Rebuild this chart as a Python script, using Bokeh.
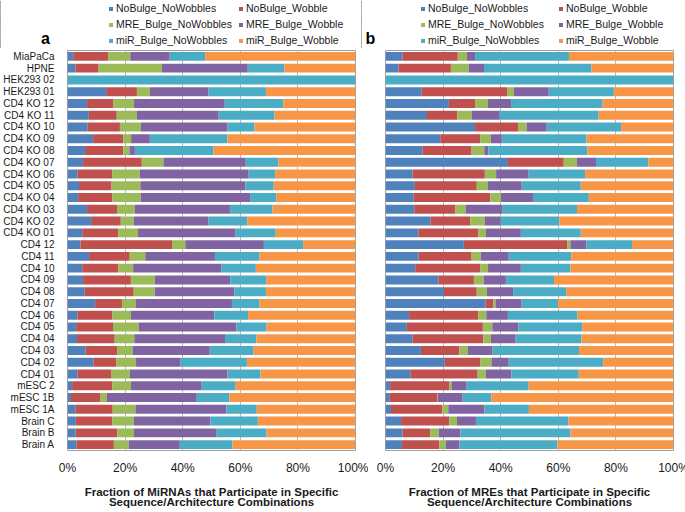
from bokeh.plotting import figure
from bokeh.layouts import row, column
from bokeh.models import Legend, LegendItem, Label, NumeralTickFormatter, FixedTicker, ColumnDataSource, FactorRange
from bokeh.embed import file_html
from bokeh.resources import INLINE

categories = ["MiaPaCa", "HPNE", "HEK293 02", "HEK293 01", "CD4 KO 12", "CD4 KO 11", "CD4 KO 10",
              "CD4 KO 09", "CD4 KO 08", "CD4 KO 07", "CD4 KO 06", "CD4 KO 05", "CD4 KO 04",
              "CD4 KO 03", "CD4 KO 02", "CD4 KO 01", "CD4 12", "CD4 11", "CD4 10", "CD4 09",
              "CD4 08", "CD4 07", "CD4 06", "CD4 05", "CD4 04", "CD4 03", "CD4 02", "CD4 01",
              "mESC 2", "mESC 1B", "mESC 1A", "Brain C", "Brain B", "Brain A"]

series_names = ["NoBulge_NoWobbles", "NoBulge_Wobble", "MRE_Bulge_NoWobbles",
                "MRE_Bulge_Wobble", "miR_Bulge_NoWobbles", "miR_Bulge_Wobble"]
colors = ["#4F81BD", "#C0504D", "#9BBB59", "#8064A2", "#4BACC6", "#F79646"]

# Panel a: fraction of miRNAs (percent)
a_nobulge_nowobbles = [2.0, 2.8, 0, 13.4, 6.8, 7.4, 7.0, 8.9, 6.1, 5.4, 3.5, 4.0, 3.7, 6.8, 8.2, 5.1, 4.5,
                       7.5, 5.1, 5.4, 6.0, 9.6, 3.5, 3.0, 3.3, 6.3, 9.1, 3.5, 1.6, 1.2, 2.7, 2.9, 2.8, 3.1]
a_nobulge_wobble = [12.1, 8.0, 0, 10.7, 9.2, 9.7, 11.2, 10.5, 13.3, 20.4, 12.0, 11.3, 11.9, 10.4, 10.3, 12.5,
                    31.8, 14.1, 12.5, 16.6, 17.0, 9.3, 12.1, 12.8, 13.1, 10.9, 7.9, 11.6, 14.0, 10.1, 13.0,
                    12.7, 14.5, 13.0]
a_mre_bulge_nowobbles = [7.7, 22.0, 0, 4.5, 7.1, 7.0, 7.3, 2.7, 2.1, 7.5, 9.6, 10.0, 9.8, 6.2, 4.5, 6.9,
                         4.6, 5.4, 5.2, 8.3, 7.3, 4.9, 6.4, 8.9, 6.8, 5.4, 6.8, 6.6, 6.4, 2.3, 7.9, 7.4, 5.8, 5.2]
a_mre_bulge_wobble = [13.7, 29.8, 0, 20.4, 31.5, 28.4, 30.1, 6.5, 1.9, 28.6, 37.8, 36.5, 38.0, 33.0, 26.0,
                      33.9, 27.3, 24.2, 30.7, 26.2, 27.7, 33.3, 29.0, 33.9, 31.5, 26.8, 15.5, 33.9, 24.6,
                      31.3, 31.6, 26.6, 28.7, 17.7]
a_mir_bulge_nowobbles = [12.3, 12.7, 100, 19.9, 20.3, 19.4, 9.3, 26.9, 27.3, 11.3, 9.2, 9.8, 9.1, 14.8, 13.4,
                         13.9, 13.6, 15.5, 11.9, 12.5, 10.9, 9.6, 11.7, 10.4, 10.9, 15.2, 23.0, 11.4, 11.8,
                         11.3, 10.5, 16.5, 17.3, 18.3]
a_mir_bulge_wobble = [52.2, 24.7, 0, 31.1, 25.1, 28.1, 35.1, 44.5, 49.3, 26.8, 27.9, 28.4, 27.5, 28.8, 37.6,
                      27.7, 18.2, 33.3, 34.6, 31.0, 31.1, 33.3, 37.3, 31.0, 34.4, 35.4, 37.7, 33.0, 41.6,
                      43.8, 34.3, 33.9, 30.9, 42.7]

# Panel b: fraction of MREs (percent)
b_nobulge_nowobbles = [5.9, 4.5, 0, 12.6, 22.0, 14.4, 31.1, 19.0, 12.9, 42.5, 9.4, 10.2, 9.8, 10.0, 15.6,
                       11.4, 27.2, 11.5, 10.3, 18.4, 20.3, 34.8, 8.2, 7.4, 9.4, 12.3, 20.6, 8.6, 1.6, 1.3,
                       1.9, 5.4, 5.9, 5.7]
b_nobulge_wobble = [19.2, 18.2, 0, 29.6, 9.1, 10.5, 14.9, 13.9, 17.0, 19.4, 25.1, 21.5, 26.6, 14.3, 13.8,
                    20.9, 36.0, 18.4, 22.7, 12.3, 11.4, 2.6, 24.0, 26.4, 24.6, 13.4, 12.4, 23.4, 20.5, 16.7,
                    17.8, 16.7, 9.6, 13.0]
b_mre_bulge_nowobbles = [3.2, 6.2, 0, 2.4, 4.5, 5.1, 3.0, 3.7, 4.4, 4.6, 3.9, 3.9, 3.7, 3.5, 5.0, 2.6, 1.0,
                         3.2, 2.6, 3.4, 3.5, 0.8, 2.8, 3.3, 2.6, 2.9, 3.8, 2.9, 0.8, 0.2, 2.1, 2.7, 3.0, 2.3]
b_mre_bulge_wobble = [2.8, 5.3, 0, 12.1, 8.0, 9.7, 7.0, 3.8, 1.4, 6.6, 11.3, 11.7, 11.1, 12.9, 5.6, 12.1,
                      5.6, 9.7, 11.4, 7.7, 9.1, 9.1, 7.5, 9.0, 8.6, 8.6, 6.0, 8.8, 5.3, 8.6, 12.5, 6.6, 7.5, 4.7]
b_mir_bulge_nowobbles = [32.6, 37.3, 100, 22.6, 31.8, 34.3, 25.8, 29.4, 34.4, 18.2, 19.6, 20.5, 19.4, 25.8,
                         20.3, 20.8, 15.8, 21.7, 17.2, 16.7, 18.4, 12.6, 24.2, 22.2, 22.8, 30.0, 32.8, 23.4,
                         21.5, 10.0, 15.5, 32.1, 38.2, 34.0]
b_mir_bulge_wobble = [36.3, 28.5, 0, 20.7, 24.6, 26.0, 18.2, 30.2, 29.9, 8.7, 30.7, 32.2, 29.4, 33.5, 39.7,
                      32.2, 14.4, 35.5, 35.8, 41.5, 37.3, 40.1, 33.3, 31.7, 32.0, 32.8, 24.4, 32.9, 50.3,
                      63.2, 50.2, 36.5, 35.8, 40.3]

x_ticks = [0, 20, 40, 60, 80, 100]

FONT = "Liberation Sans"
FRAME_H = 400
FRAME_W = 288
LEG_FIG_H = 48
KEYS = ["s%d" % i for i in range(6)]


def make_source(series):
    data = {"cat": categories}
    for k, s in zip(KEYS, series):
        data[k] = [v / 100.0 for v in s]
    return ColumnDataSource(data)


def make_legend_fig(src, width, legend_x, letter, letter_x, label_width):
    # the stacked bars are drawn here only to feed the legend; the view range keeps them out of sight
    lf = figure(width=width, height=LEG_FIG_H, x_range=(2, 3), y_range=FactorRange(*categories),
                x_axis_location=None, y_axis_location=None, min_border=0,
                output_backend="svg", toolbar_location=None, title_location=None)
    lf.grid.visible = False
    lf.outline_line_color = None
    rs = lf.hbar_stack(KEYS, y="cat", height=0.76, color=colors, source=src, line_color=None)
    items = [LegendItem(label=n, renderers=[r]) for n, r in zip(series_names, rs)]
    legend = Legend(items=items, orientation="horizontal", ncols=2,
                    location=(legend_x, 1), margin=0, padding=0, spacing=2,
                    glyph_width=5, glyph_height=5, label_height=14, label_width=label_width,
                    label_standoff=3, label_text_font=FONT, label_text_font_size="10.5px",
                    label_text_color="#1a1a1a", background_fill_alpha=0, border_line_color=None)
    lf.add_layout(legend, "center")
    lab = Label(x=letter_x, y=10, x_units="screen", y_units="screen", text=letter,
                text_font=FONT, text_font_size="16px", text_font_style="bold",
                text_align="center", text_baseline="middle", text_color="#000000")
    lf.add_layout(lab)
    return lf


def make_panel(src, xlabel, border_left, border_right, show_ylabels):
    p = figure(y_range=FactorRange(*reversed(categories)), x_range=(0, 1),
               frame_width=FRAME_W, frame_height=FRAME_H, output_backend="svg", toolbar_location=None,
               min_border_left=border_left, min_border_right=border_right,
               min_border_top=2, min_border_bottom=0, title_location=None)
    p.hbar_stack(KEYS, y="cat", height=0.76, color=colors, source=src, line_color=None)

    p.xaxis.ticker = FixedTicker(ticks=[t / 100.0 for t in x_ticks])
    p.xaxis.formatter = NumeralTickFormatter(format="0%")
    p.xaxis.major_label_text_font = FONT
    p.xaxis.major_label_text_font_size = "12px"
    p.xaxis.major_label_text_color = "#1a1a1a"
    p.xaxis.major_tick_line_color = None
    p.xaxis.minor_tick_line_color = None
    p.xaxis.axis_line_color = None
    p.xaxis.major_label_standoff = 4
    p.xaxis.axis_label = xlabel
    p.xaxis.axis_label_text_font = FONT
    p.xaxis.axis_label_text_font_size = "11.5px"
    p.xaxis.axis_label_text_font_style = "bold"
    p.xaxis.axis_label_text_color = "#1a1a1a"
    p.xaxis.axis_label_text_line_height = 0.85
    p.xaxis.axis_label_standoff = 8

    if show_ylabels:
        p.yaxis.major_label_text_font = FONT
        p.yaxis.major_label_text_font_size = "10px"
        p.yaxis.major_label_text_color = "#1a1a1a"
        p.yaxis.major_tick_line_color = None
        p.yaxis.axis_line_color = None
        p.yaxis.major_label_standoff = 7
    else:
        p.yaxis.visible = False

    p.ygrid.grid_line_color = None
    p.xgrid.grid_line_color = "#b8b8b8"
    p.xgrid.grid_line_width = 1
    p.outline_line_color = "#a0a0a0"
    p.outline_line_width = 1
    p.background_fill_color = "white"
    p.border_fill_color = "white"
    return p


A_LEFT, A_RIGHT = 60, 13
B_LEFT, B_RIGHT = 17, 17
A_W = A_LEFT + FRAME_W + A_RIGHT
B_W = B_LEFT + FRAME_W + B_RIGHT

src_a = make_source([a_nobulge_nowobbles, a_nobulge_wobble, a_mre_bulge_nowobbles, a_mre_bulge_wobble,
                     a_mir_bulge_nowobbles, a_mir_bulge_wobble])
src_b = make_source([b_nobulge_nowobbles, b_nobulge_wobble, b_mre_bulge_nowobbles, b_mre_bulge_wobble,
                     b_mir_bulge_nowobbles, b_mir_bulge_wobble])

pa = make_panel(src_a,
                "Fraction of MiRNAs that Participate in Specific\nSequence/Architecture Combinations",
                border_left=A_LEFT, border_right=A_RIGHT, show_ylabels=True)
pb = make_panel(src_b,
                "Fraction of MREs that Participate in Specific\nSequence/Architecture Combinations",
                border_left=B_LEFT, border_right=B_RIGHT, show_ylabels=False)

la = make_legend_fig(src_a, A_W, legend_x=108, letter="a", letter_x=45, label_width=120)
lb = make_legend_fig(src_b, B_W, legend_x=59, letter="b", letter_x=9, label_width=128)

layout = column(row(la, lb), row(pa, pb))
open("out.html", "w").write(file_html(layout, INLINE))
